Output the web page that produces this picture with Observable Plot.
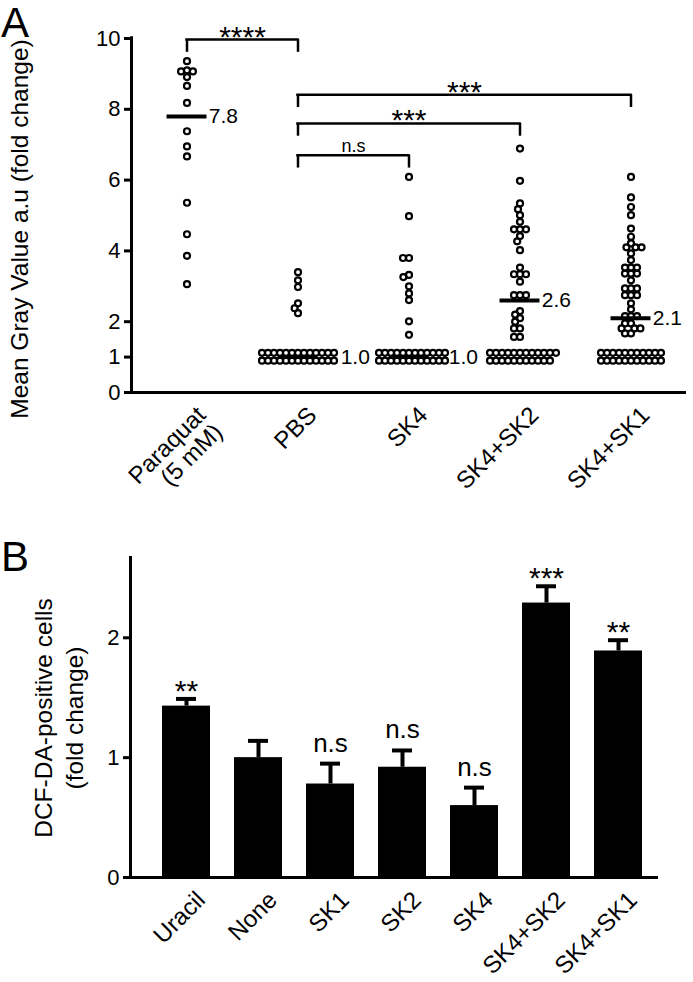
<!DOCTYPE html>
<html><head><meta charset="utf-8">
<script src="https://cdn.jsdelivr.net/npm/d3@7"></script>
<script src="https://cdn.jsdelivr.net/npm/@observablehq/plot@0.6"></script>
<style>
body{margin:0;background:#fff;}
#wrap{position:relative;width:693px;height:982px;overflow:hidden;font-family:"Liberation Sans",Arial,sans-serif;color:#000;background:#fff;}
.panel{position:absolute;left:0;}
.letter{position:absolute;left:1px;font-size:42px;line-height:1.1;}
.ylab{position:absolute;transform:translate(-50%,-50%) rotate(-90deg);white-space:nowrap;text-align:center;font-size:24.5px;line-height:1.25;}
</style></head><body>
<div id="wrap"></div>
<script>
// ---------- Panel A data ----------
const groupsA = ["Paraquat (5 mM)", "PBS", "SK4", "SK4+SK2", "SK4+SK1"];
const labelsA = ["Paraquat\n(5 mM)", "PBS", "SK4", "SK4+SK2", "SK4+SK1"];
const yTicksA = [0, 1, 2, 4, 6, 8, 10];
const paraquatVals = [9.36, 9.10, 9.07, 9.07, 8.91, 8.66, 8.18, 7.38, 6.95, 6.67, 5.36, 4.47, 3.86, 3.06];
const pbsVals = [3.40, 3.17, 2.98, 2.52, 2.38, 2.24,
  1.12, 1.12, 1.12, 1.12, 1.12, 1.12, 1.12, 1.12, 1.12, 1.12, 1.12, 1.12, 1.12,
  0.90, 0.90, 0.90, 0.90, 0.90, 0.90, 0.90, 0.90, 0.90, 0.90, 0.90, 0.90, 0.90];
const sk4Vals = [6.09, 4.98, 3.80, 3.80, 3.32, 3.26, 3.00, 2.80, 2.61, 2.01, 1.63,
  1.12, 1.12, 1.12, 1.12, 1.12, 1.12, 1.12, 1.12, 1.12, 1.12, 1.12, 1.12,
  0.90, 0.90, 0.90, 0.90, 0.90, 0.90, 0.90, 0.90, 0.90, 0.90, 0.90, 0.90];
const sk4sk2Vals = [6.89, 5.98, 5.34, 5.18, 5.01, 4.82, 4.61, 4.61, 4.61, 4.42, 4.27, 4.02,
  3.53, 3.34, 3.34, 3.34, 3.13, 2.75, 2.75, 2.75, 2.30, 2.20, 2.10, 2.00, 1.81, 1.81, 1.57, 1.57,
  1.12, 1.12, 1.12, 1.12, 1.12, 1.12, 1.12, 1.12, 1.12, 1.12, 1.12, 1.12,
  0.90, 0.90, 0.90, 0.90, 0.90, 0.90, 0.90, 0.90, 0.90, 0.90, 0.90];
const sk4sk1Vals = [6.09, 5.51, 5.24, 5.01, 4.63, 4.40, 4.21, 4.10, 4.10, 4.10, 3.93, 3.74,
  3.53, 3.53, 3.53, 3.36, 3.36, 3.36, 3.17, 2.94, 2.94, 2.94, 2.75, 2.75, 2.75, 2.52, 2.35,
  2.16, 2.16, 2.16, 1.95, 1.95, 1.81, 1.81, 1.81, 1.67, 1.67,
  1.12, 1.12, 1.12, 1.12, 1.12, 1.12, 1.12, 1.12, 1.12, 1.12, 1.12,
  0.90, 0.90, 0.90, 0.90, 0.90, 0.90, 0.90, 0.90, 0.90, 0.90, 0.90];
const valuesA = [paraquatVals, pbsVals, sk4Vals, sk4sk2Vals, sk4sk1Vals];
const mediansA = [7.8, 1.0, 1.0, 2.6, 2.1];
const bracketFrom = ["Paraquat (5 mM)", "PBS", "PBS", "PBS"];
const bracketTo = ["PBS", "SK4+SK1", "SK4+SK2", "SK4"];
const bracketY = [9.97, 8.41, 7.60, 6.70];
const bracketText = ["****", "***", "***", "n.s"];

// ---------- Panel B data ----------
const groupsB = ["Uracil", "None", "SK1", "SK2", "SK4", "SK4+SK2", "SK4+SK1"];
const valuesB = [1.43, 1.00, 0.78, 0.92, 0.60, 2.29, 1.89];
const errorsB = [0.06, 0.14, 0.17, 0.14, 0.15, 0.14, 0.09];
const sigB = ["**", "", "n.s", "n.s", "n.s", "***", "**"];
const yTicksB = [0, 1, 2];

const font = '"Liberation Sans", Arial, Helvetica, sans-serif';
const wrap = document.getElementById("wrap");

// ---------- Panel A ----------
const WA = 693, HA = 520, mlA = 129, mrA = 5;
const stepA = (WA - mlA - mrA) / groupsA.length;
const r = 3.0, pad = 0;
const pointsA = [];
groupsA.forEach((g, i) => valuesA[i].forEach(v => pointsA.push({group: g, value: v})));
const medA = groupsA.map((g, i) => {
  const m = mediansA[i];
  const near = valuesA[i].filter(v => Math.abs(v - m) < 0.2).length;
  const half = Math.ceil(near / 2) * (2 * r + pad) / 2 + 4;
  return {group: g, m, lx: Math.max(22, half) / stepA};
});
const brackets = bracketFrom.map((f, i) => ({
  from: f, span: groupsA.indexOf(bracketTo[i]) - groupsA.indexOf(f), y: bracketY[i], label: bracketText[i]
}));
const drop = 0.36;

const chartA = Plot.plot({
  width: WA, height: HA, marginLeft: mlA, marginRight: mrA, marginTop: 38, marginBottom: HA - 392,
  style: {fontFamily: font, color: "black", background: "transparent", overflow: "visible"},
  fx: {domain: groupsA, padding: 0, axis: null, label: null},
  x: {domain: [-0.5, 0.5], axis: null},
  y: {domain: [0, 10], axis: null},
  marks: [
    Plot.ruleY([0], {strokeWidth: 3}),
    Plot.ruleX([groupsA[0]], {fx: d => d, x: -0.5, y1: 0, y2: 10.05, strokeWidth: 3}),
    Plot.axisY({ticks: yTicksA, tickSize: 7, tickPadding: 4, strokeWidth: 3, fontSize: 22, label: null, tickFormat: d => String(d)}),
    Plot.dot(pointsA, Plot.dodgeX({anchor: "middle", padding: pad}, {fx: "group", y: "value", r, stroke: "black", strokeWidth: 2.2, fill: "none"})),
    Plot.ruleY(medA, {fx: "group", y: "m", x1: -0.18, x2: 0.18, strokeWidth: 4}),
    Plot.text(medA, {fx: "group", y: "m", x: "lx", text: d => d.m.toFixed(1), textAnchor: "start", fontSize: 21}),
    Plot.ruleY(brackets, {fx: "from", y: "y", x1: 0, x2: "span", strokeWidth: 2.5, strokeLinecap: "square"}),
    Plot.ruleX(brackets, {fx: "from", x: 0, y1: d => d.y - drop, y2: "y", strokeWidth: 2.5}),
    Plot.ruleX(brackets, {fx: "from", x: "span", y1: d => d.y - drop, y2: "y", strokeWidth: 2.5}),
    Plot.text(brackets.filter(d => d.label.includes("*")), {fx: "from", x: d => d.span / 2, y: "y", text: "label", lineAnchor: "bottom", fontSize: 30, dy: 7}),
    Plot.text(brackets.filter(d => !d.label.includes("*")), {fx: "from", x: d => d.span / 2, y: "y", text: "label", lineAnchor: "bottom", fontSize: 18, dy: -3}),
    Plot.text(groupsA, {fx: d => d, text: (d, i) => labelsA[i], frameAnchor: "bottom", rotate: -45, textAnchor: "end", lineAnchor: "top", fontSize: 24, dx: 8, dy: 12})
  ]
});
chartA.classList.add("panel");
chartA.style.top = "0px";
wrap.appendChild(chartA);

// ---------- Panel B ----------
const dataB = groupsB.map((g, i) => ({g, v: valuesB[i], up: valuesB[i] + errorsB[i], sig: sigB[i]}));
const chartB = Plot.plot({
  width: 693, height: 462, marginLeft: 130, marginRight: 35, marginTop: 37, marginBottom: 105,
  style: {fontFamily: font, color: "black", background: "transparent", overflow: "visible"},
  x: {domain: groupsB, paddingInner: 0.34, paddingOuter: 0.31, align: 0.67, axis: null},
  y: {domain: [0, 2.67], axis: null},
  marks: [
    Plot.ruleX(dataB, {x: "g", y1: "v", y2: "up", strokeWidth: 4}),
    Plot.tickY(dataB, {x: "g", y: "up", strokeWidth: 4, insetLeft: 14, insetRight: 14}),
    Plot.barY(dataB, {x: "g", y: "v", fill: "black"}),
    Plot.ruleY([0], {strokeWidth: 3}),
    Plot.frame({anchor: "left", strokeWidth: 3}),
    Plot.axisY({ticks: yTicksB, tickSize: 7, tickPadding: 4, strokeWidth: 3, fontSize: 22, label: null, tickFormat: d => String(d)}),
    Plot.text(dataB.filter(d => d.sig.includes("*")), {x: "g", y: "up", text: "sig", lineAnchor: "bottom", fontSize: 30, dy: 2}),
    Plot.text(dataB.filter(d => d.sig && !d.sig.includes("*")), {x: "g", y: "up", text: "sig", lineAnchor: "bottom", fontSize: 26, dy: -12}),
    Plot.text(dataB, {x: "g", text: "g", frameAnchor: "bottom", rotate: -45, textAnchor: "end", lineAnchor: "top", fontSize: 24, dx: 8, dy: 12})
  ]
});
chartB.classList.add("panel");
chartB.style.top = "520px";
wrap.appendChild(chartB);

// ---------- Labels ----------
function addDiv(cls, html, css) {
  const d = document.createElement("div");
  d.className = cls; d.innerHTML = html;
  Object.assign(d.style, css);
  wrap.appendChild(d);
}
addDiv("letter", "A", {top: "0px"});
addDiv("letter", "B", {top: "534px"});
addDiv("ylab", "Mean Gray Value a.u (fold change)", {left: "20px", top: "229px"});
addDiv("ylab", "DCF-DA-positive cells<br>(fold change)", {left: "60px", top: "718px"});
</script>
</body></html>
